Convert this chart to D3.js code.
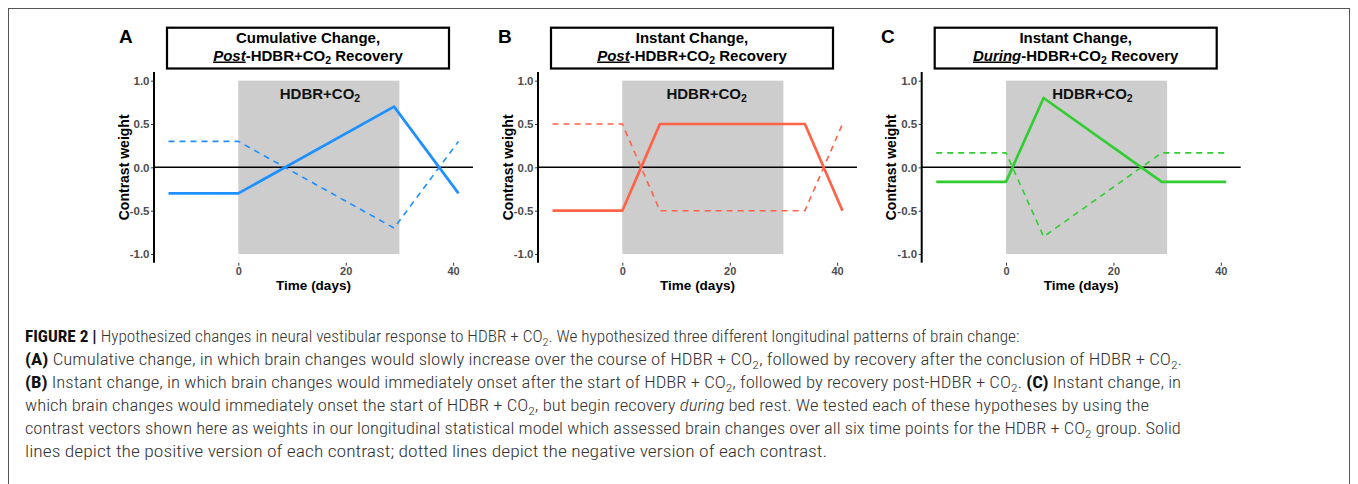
<!DOCTYPE html>
<html>
<head>
<meta charset="utf-8">
<script src="https://cdn.jsdelivr.net/npm/d3@7"></script>
<style>
  body { margin: 0; background: #fff; }
  svg { display: block; }
  text { font-family: "Liberation Sans", Arial, Helvetica, sans-serif; }
</style>
</head>
<body>
<div class="container"></div>
<script>
// contrast vectors (days vs weight)
const DAYS_A = [-13, 0, 29, 41];
const POS_A = [-0.3, -0.3, 0.7, -0.3];
const NEG_A = [0.3, 0.3, -0.7, 0.3];

const DAYS_B = [-13, 0, 7, 34, 41];
const POS_B = [-0.5, -0.5, 0.5, 0.5, -0.5];
const NEG_B = [0.5, 0.5, -0.5, -0.5, 0.5];

const DAYS_C = [-13, 0, 7, 29, 41];
const POS_C = [-0.167, -0.167, 0.8, -0.167, -0.167];
const NEG_C = [0.167, 0.167, -0.8, 0.167, 0.167];

const BED_REST = [0, 30];
const LABEL_DAYS = [15.2, 15.7, 16.1];
const X_TICKS = [0, 20, 40];
const Y_TICKS = [-1, -0.5, 0, 0.5, 1];

const LETTERS = ['A', 'B', 'C'];
const TITLE_TOP = ['Cumulative Change,', 'Instant Change,', 'Instant Change,'];
const TITLE_EMPH = ['Post', 'Post', 'During'];
const COLORS = ['#1E90FF', '#FF6347', '#32CD32'];

const CAPTION = [
  [['FIGURE 2 | ', 'b'], ['Hypothesized changes in neural vestibular response to HDBR + CO'], ['2', 'sub'], ['. We hypothesized three different longitudinal patterns of brain change:']],
  [['(A)', 'b'], [' Cumulative change, in which brain changes would slowly increase over the course of HDBR + CO'], ['2', 'sub'], [', followed by recovery after the conclusion of HDBR + CO'], ['2', 'sub'], ['.']],
  [['(B)', 'b'], [' Instant change, in which brain changes would immediately onset after the start of HDBR + CO'], ['2', 'sub'], [', followed by recovery post-HDBR + CO'], ['2', 'sub'], ['. '], ['(C)', 'b'], [' Instant change, in']],
  [['which brain changes would immediately onset the start of HDBR + CO'], ['2', 'sub'], [', but begin recovery '], ['during', 'i'], [' bed rest. We tested each of these hypotheses by using the']],
  [['contrast vectors shown here as weights in our longitudinal statistical model which assessed brain changes over all six time points for the HDBR + CO'], ['2', 'sub'], [' group. Solid']],
  [['lines depict the positive version of each contrast; dotted lines depict the negative version of each contrast.']]
];

const WIDTH = 1358;
const HEIGHT = 484;
const PLOT_LEFTS = [154, 538, 921.7];
const LETTER_X = [119, 498, 881];
const PLOT_W = 319;
const PLOT_TOP = 72;
const PLOT_BOTTOM = 262.7;
const CAPTION_X = 25;
const CAPTION_ENDS = [1020, 1183, 1182, 1150, 1182, 828];

const panels = [
  { days: DAYS_A, pos: POS_A, neg: NEG_A },
  { days: DAYS_B, pos: POS_B, neg: NEG_B },
  { days: DAYS_C, pos: POS_C, neg: NEG_C }
];

var svg = d3.select('.container').append('svg')
  .attr('width', WIDTH)
  .attr('height', HEIGHT);

svg.append('rect')
  .attr('x', 8.5).attr('y', 8.5)
  .attr('width', WIDTH - 17).attr('height', HEIGHT + 20)
  .attr('fill', 'none').attr('stroke', '#555').attr('stroke-width', 1);

// ggplot style 5% expansion
function expand(ext) {
  var pad = (ext[1] - ext[0]) * 0.05;
  return [ext[0] - pad, ext[1] + pad];
}

panels.forEach(function (p, i) {
  var left = PLOT_LEFTS[i];
  var g = svg.append('g');

  var x = d3.scaleLinear()
    .domain(expand(d3.extent(p.days)))
    .range([left, left + PLOT_W]);
  var y = d3.scaleLinear()
    .domain(expand(d3.extent(Y_TICKS)))
    .range([PLOT_BOTTOM, PLOT_TOP]);

  // bed rest period
  g.append('rect')
    .attr('x', x(BED_REST[0]))
    .attr('y', y(1))
    .attr('width', x(BED_REST[1]) - x(BED_REST[0]))
    .attr('height', y(-1) - y(1))
    .attr('fill', '#cdcdcd');

  var lbl = g.append('text')
    .attr('x', x(LABEL_DAYS[i]))
    .attr('y', 99)
    .attr('text-anchor', 'middle')
    .attr('font-size', 15)
    .attr('font-weight', 'bold')
    .attr('fill', '#111');
  lbl.append('tspan').text('HDBR+CO');
  lbl.append('tspan').attr('font-size', 10.5).attr('dy', 3).text('2');

  // zero line
  g.append('line')
    .attr('x1', x.range()[0]).attr('x2', x.range()[1])
    .attr('y1', y(0)).attr('y2', y(0))
    .attr('stroke', '#000').attr('stroke-width', 1.5);

  // axes
  var yAxis = d3.axisLeft(y).tickValues(Y_TICKS)
    .tickFormat(function (d) { return d.toFixed(1); })
    .tickSize(3).tickSizeOuter(0).tickPadding(1.5);
  var ya = g.append('g')
    .attr('transform', 'translate(' + left + ',0)')
    .call(yAxis);
  ya.select('.domain').remove();
  ya.selectAll('.tick line').attr('stroke', '#333');
  ya.selectAll('.tick text')
    .attr('font-size', 11.5).attr('font-weight', 'bold').attr('fill', '#4d4d4d')
    .attr('font-family', '"Liberation Sans", Arial, sans-serif');
  g.append('line')
    .attr('x1', left).attr('x2', left)
    .attr('y1', PLOT_TOP).attr('y2', PLOT_BOTTOM)
    .attr('stroke', '#000').attr('stroke-width', 2);

  var xAxis = d3.axisBottom(x).tickValues(X_TICKS)
    .tickSize(3).tickSizeOuter(0).tickPadding(1.5);
  var xa = g.append('g')
    .attr('transform', 'translate(0,' + PLOT_BOTTOM + ')')
    .call(xAxis);
  xa.select('.domain').remove();
  xa.selectAll('.tick line').attr('stroke', '#333');
  xa.selectAll('.tick text')
    .attr('font-size', 11).attr('font-weight', 'bold').attr('fill', '#4d4d4d')
    .attr('font-family', '"Liberation Sans", Arial, sans-serif');

  // axis titles
  g.append('text')
    .attr('x', left + PLOT_W / 2).attr('y', 290)
    .attr('text-anchor', 'middle')
    .attr('font-size', 13.5).attr('font-weight', 'bold')
    .text('Time (days)');
  g.append('text')
    .attr('transform', 'translate(' + (left - 25.5) + ',' + y(0) + ') rotate(-90)')
    .attr('text-anchor', 'middle')
    .attr('font-size', 14).attr('font-weight', 'bold')
    .text('Contrast weight');

  // contrast lines
  var line = d3.line()
    .x(function (d, k) { return x(p.days[k]); })
    .y(function (d) { return y(d); });

  g.append('path')
    .attr('d', line(p.neg))
    .attr('fill', 'none')
    .attr('stroke', COLORS[i])
    .attr('stroke-width', 1.6)
    .attr('stroke-dasharray', '6,5');
  g.append('path')
    .attr('d', line(p.pos))
    .attr('fill', 'none')
    .attr('stroke', COLORS[i])
    .attr('stroke-width', 2.7)
    .attr('stroke-linejoin', 'round');

  // panel letter
  g.append('text')
    .attr('x', LETTER_X[i]).attr('y', 43)
    .attr('font-size', 19).attr('font-weight', 'bold')
    .text(LETTERS[i]);

  // title box
  var bx = left + 13, bw = 282;
  g.append('rect')
    .attr('x', bx).attr('y', 27.7)
    .attr('width', bw).attr('height', 40.8)
    .attr('fill', '#fff').attr('stroke', '#000').attr('stroke-width', 2.2);
  g.append('text')
    .attr('x', bx + bw / 2).attr('y', 42.5)
    .attr('text-anchor', 'middle')
    .attr('font-size', 15).attr('font-weight', 'bold')
    .text(TITLE_TOP[i]);
  var t2 = g.append('text')
    .attr('x', bx + bw / 2).attr('y', 60.5)
    .attr('text-anchor', 'middle')
    .attr('font-size', 15).attr('font-weight', 'bold');
  t2.append('tspan').attr('font-style', 'italic')
    .style('text-decoration', 'underline').text(TITLE_EMPH[i]);
  t2.append('tspan').text('-HDBR+CO');
  t2.append('tspan').attr('font-size', 10.5).attr('dy', 3).text('2');
  t2.append('tspan').attr('dy', -3).text(' Recovery');
});

// caption, each line fitted to the width it has in the figure
CAPTION.forEach(function (segs, li) {
  var t = svg.append('text')
    .attr('font-size', 16)
    .attr('fill', '#333')
    .style('font-family', '"Roboto Condensed", "Liberation Sans Narrow", Roboto, sans-serif')
    .style('font-weight', 300);
  var shifted = false;
  segs.forEach(function (s) {
    var ts = t.append('tspan').text(s[0]);
    if (s[1] === 'b') ts.style('font-weight', 'bold').attr('fill', '#111');
    if (s[1] === 'i') ts.style('font-style', 'italic');
    if (s[1] === 'sub') {
      ts.attr('font-size', 11.5).attr('dy', 3.5);
      shifted = true;
    } else if (shifted) {
      ts.attr('dy', -3.5);
      shifted = false;
    }
  });
  var w = t.node().getComputedTextLength();
  var sx = (CAPTION_ENDS[li] - CAPTION_X) / w;
  t.attr('transform', 'translate(' + CAPTION_X + ',' + (342.3 + li * 23) + ') scale(' + sx + ',1)');
});
</script>
</body>
</html>
